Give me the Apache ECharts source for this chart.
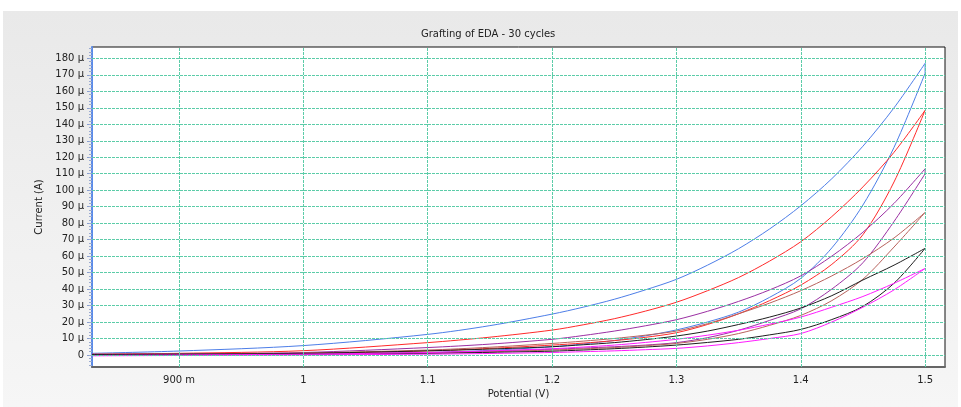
<!DOCTYPE html>
<html>
<head>
<meta charset="utf-8">
<script src="https://cdn.jsdelivr.net/npm/echarts@6/dist/echarts.min.js"></script>
<style>
html,body{margin:0;padding:0;background:#fff;}
#bg{position:absolute;left:3px;top:11px;width:955px;height:396px;background:linear-gradient(#e9e9e9,#f6f6f6);}
#chart{position:absolute;left:0;top:0;width:961px;height:407px;}
</style>
</head>
<body>
<div id="bg"></div>
<div id="chart"></div>
<script>
// Potential grid (V) shared by all branches
const potentials = [0.83, 0.9, 1.0, 1.1, 1.15, 1.2, 1.225, 1.25, 1.275, 1.3, 1.325, 1.35, 1.375, 1.4, 1.425, 1.45, 1.475, 1.5];
// Currents in microampere: forward (lower) branch and reverse (upper) branch
const blueFwd    = [0.3, 0.5, 0.8, 1.5, 2.8, 5.0, 6.7, 8.8, 11.6, 15.2, 20, 26, 35, 46.5, 65, 91, 126, 171];
const blueRev    = [1.0, 2.4, 5.7, 12.5, 17.8, 24.8, 29, 33.8, 39.5, 45.9, 54.5, 64.5, 76.5, 90.5, 107, 126.7, 150, 177];
const redFwd     = [0.2, 0.5, 1.0, 2.5, 4, 6, 7.2, 8.7, 10.7, 13.5, 18.5, 25, 33, 42.4, 55, 73, 105, 148.5];
const redRev     = [0.5, 1.0, 2.6, 7.5, 10.8, 15.1, 18.3, 22, 26.6, 32, 39, 47, 57, 68.7, 84, 102, 123, 148.5];
const purpleFwd  = [0.1, 0.3, 0.6, 1.5, 2.3, 3.5, 4.2, 5, 6, 7.5, 10.5, 15, 21, 28, 40, 56, 81, 110];
const purpleRev  = [0.3, 0.6, 1.5, 4.5, 6.6, 9.5, 11.8, 14.5, 17.7, 21.4, 26.5, 32.5, 39.5, 48, 60, 74.5, 92, 113];
const brownFwd   = [0.1, 0.3, 0.6, 1.2, 2, 3, 3.7, 4.5, 5.6, 7, 9.5, 13, 18, 24, 33, 46, 65.5, 86.5];
const brownRev   = [0.3, 0.5, 1.2, 3, 4.7, 7, 8.4, 10, 12, 14.5, 19, 25, 31.5, 39, 48, 58.5, 71, 86.5];
const blackFwd   = [0, 0.2, 0.5, 1, 1.6, 2.3, 3, 3.8, 4.8, 6, 7.6, 9.5, 12.2, 15.5, 21.5, 29.5, 43.5, 64.7];
const blackRev   = [0.3, 0.5, 1.0, 2.5, 3.6, 5, 6.2, 7.5, 9.3, 11.5, 14.5, 18.5, 23, 28.5, 36, 45.5, 54.5, 64.7];
const magentaFwd = [-0.5, -0.3, 0, 0.5, 0.9, 1.5, 2, 2.5, 3.2, 4, 5.5, 7.5, 10, 13, 20, 29, 39.5, 52.5];
const magentaRev = [-0.3, 0, 0.5, 1.5, 2.5, 3.8, 4.8, 6, 7.6, 9.5, 12, 15, 18.7, 23, 29, 35.5, 43.5, 52.5];

const xTicks = [0.9, 1.0, 1.1, 1.2, 1.3, 1.4, 1.5];
const yTicks = [0, 10, 20, 30, 40, 50, 60, 70, 80, 90, 100, 110, 120, 130, 140, 150, 160, 170, 180];
const yMinorTicks = [];
for (let v = -6; v <= 186; v += 2) yMinorTicks.push(v);

const loops = [
  {name: 'blue', color: '#4d7ee8', fwd: blueFwd, rev: blueRev},
  {name: 'red', color: '#ff2a2a', fwd: redFwd, rev: redRev},
  {name: 'purple', color: '#9b2fa3', fwd: purpleFwd, rev: purpleRev},
  {name: 'brown', color: '#b8625c', fwd: brownFwd, rev: brownRev},
  {name: 'black', color: '#1e1e1e', fwd: blackFwd, rev: blackRev},
  {name: 'magenta', color: '#ff1aff', fwd: magentaFwd, rev: magentaRev}
];

const gridLineStyle = {color: '#5ccca8', width: 1, type: [3, 1]};

const series = [{
  name: 'grid', type: 'line', data: [], z: 1, silent: true,
  markLine: {
    silent: true, symbol: ['none', 'none'], label: {show: false}, animation: false,
    lineStyle: gridLineStyle,
    data: yTicks.map(v => ({yAxis: v})).concat(xTicks.map(v => ({xAxis: v})))
  }
}];
loops.forEach(l => {
  series.push({
    name: l.name + ' fwd', type: 'line', smooth: 0.3, symbol: 'none', z: 3,
    lineStyle: {color: l.color, width: 1}, data: potentials.map((v, i) => [v, l.fwd[i]])
  });
  const revData = potentials.map((v, i) => [v, l.rev[i]]).reverse();
  series.push({
    name: l.name + ' rev', type: 'line', smooth: 0.3, symbol: 'none', z: 3,
    lineStyle: {color: l.color, width: 1}, data: revData
  });
  series.push({
    name: l.name + ' vertex', type: 'line', symbol: 'none', z: 3,
    lineStyle: {color: l.color, width: 1},
    data: [[1.5, l.fwd[l.fwd.length - 1]], [1.5, l.rev[l.rev.length - 1]]]
  });
});

const font = 'DejaVu Sans';

const chart = echarts.init(document.getElementById('chart'));
chart.setOption({
  animation: false,
  backgroundColor: 'transparent',
  title: {
    text: 'Grafting of EDA - 30 cycles', left: 416, top: 24,
    textStyle: {fontFamily: font, fontSize: 10, fontWeight: 'normal', color: '#222'}
  },
  grid: {left: 92, right: 16, top: 47, bottom: 40, show: true, backgroundColor: '#fff', borderColor: '#111', borderWidth: 1},
  xAxis: {
    type: 'value', min: 0.83, max: 1.516,
    name: 'Potential (V)', nameLocation: 'middle', nameGap: 21,
    nameTextStyle: {fontFamily: font, fontSize: 10, color: '#222'},
    axisLine: {show: true, onZero: false, lineStyle: {color: '#666', width: 2}},
    axisTick: {show: false, customValues: xTicks},
    axisLabel: {
      customValues: xTicks, fontFamily: font, fontSize: 10, color: '#222', margin: 8,
      formatter: v => Math.abs(v - 0.9) < 1e-6 ? '900 m' : (Math.round(v * 10) / 10).toString()
    },
    splitLine: {show: false}
  },
  yAxis: [{
    type: 'value', min: -7.3, max: 186.9,
    name: 'Current (A)', nameLocation: 'middle', nameGap: 45,
    nameTextStyle: {fontFamily: font, fontSize: 10, color: '#222'},
    axisLine: {show: true, onZero: false, lineStyle: {color: '#5b8be8', width: 2}},
    axisTick: {show: true, customValues: yTicks, length: 5, lineStyle: {color: '#8aa0d0'}},
    axisLabel: {
      customValues: yTicks, fontFamily: font, fontSize: 10, color: '#222', margin: 8,
      formatter: v => v === 0 ? '0' : v + ' μ'
    },
    splitLine: {show: false}
  }, {
    type: 'value', min: -7.3, max: 186.9, position: 'left',
    axisLine: {show: false},
    axisTick: {show: true, customValues: yMinorTicks, length: 3, lineStyle: {color: '#9aaad0'}},
    axisLabel: {show: false},
    splitLine: {show: false}
  }],
  series: series
});
</script>
</body>
</html>
